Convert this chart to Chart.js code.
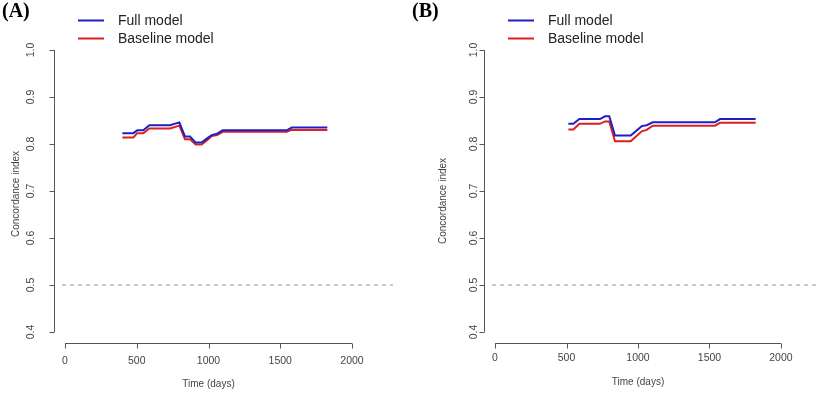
<!DOCTYPE html>
<html>
<head>
<meta charset="utf-8">
<script src="https://cdn.jsdelivr.net/npm/chart.js@4/dist/chart.umd.min.js"></script>
<style>
html,body{margin:0;padding:0;background:#fff;}
#wrap{position:relative;width:820px;height:395px;overflow:hidden;}
.pane{position:absolute;top:0;width:410px;height:395px;}
</style>
</head>
<body>
<div id="wrap">
  <div class="pane" style="left:0"><canvas id="cA" width="410" height="395"></canvas></div>
  <div class="pane" style="left:410px"><canvas id="cB" width="410" height="395"></canvas></div>
</div>
<script>
// ---- data ----
const timesA = [400, 476, 504, 546, 587, 732, 797, 836, 871, 911, 952, 990, 1022, 1060, 1099, 1545, 1580, 1828];
const fullA  = [0.823, 0.823, 0.829, 0.829, 0.840, 0.840, 0.846, 0.816, 0.816, 0.803, 0.803, 0.812, 0.819, 0.822, 0.829, 0.829, 0.835, 0.835];
const baseA  = [0.814, 0.814, 0.823, 0.823, 0.833, 0.833, 0.839, 0.810, 0.810, 0.799, 0.799, 0.808, 0.817, 0.819, 0.826, 0.826, 0.830, 0.830];

const timesB = [513, 548, 590, 734, 769, 799, 839, 949, 1026, 1061, 1103, 1538, 1573, 1823];
const fullB  = [0.843, 0.843, 0.853, 0.853, 0.859, 0.859, 0.818, 0.818, 0.838, 0.840, 0.846, 0.846, 0.853, 0.853];
const baseB  = [0.831, 0.831, 0.843, 0.843, 0.848, 0.848, 0.806, 0.806, 0.827, 0.830, 0.839, 0.839, 0.845, 0.845];

const xTicks = [0, 500, 1000, 1500, 2000];
const yTicks = [0.4, 0.5, 0.6, 0.7, 0.8, 0.9, 1.0];
const refLevel = 0.5;
const refSpan = [-20, 2285];
const seriesNames = ["Full model", "Baseline model"];
const panelLabels = ["(A)", "(B)"];
const xTitle = "Time (days)";
const yTitle = "Concordance index";

// ---- styling ----
const BLUE = "#1f1fc8";
const RED = "#dc1f1f";
const TXT = "#444";

function pts(t, v){ return t.map((x,i)=>({x:x, y:v[i]})); }

function makePanel(id, times, full, base, label, cfg){
  const axesPlugin = {
    id: 'rAxes',
    afterDraw(chart){
      const ctx = chart.ctx;
      const xs = chart.scales.x, ys = chart.scales.y;
      const area = chart.chartArea;
      ctx.save();
      ctx.strokeStyle = "#555";
      ctx.lineWidth = 1;
      ctx.fillStyle = TXT;
      // y axis
      const yx = Math.round(area.left) + 0.5;
      ctx.beginPath();
      ctx.moveTo(yx, ys.getPixelForValue(yTicks[0]));
      ctx.lineTo(yx, ys.getPixelForValue(yTicks[yTicks.length-1]));
      yTicks.forEach(v=>{
        const p = Math.round(ys.getPixelForValue(v)) + 0.5;
        ctx.moveTo(yx, p); ctx.lineTo(yx - 5, p);
      });
      ctx.stroke();
      ctx.font = "10.5px 'Liberation Sans', Arial, sans-serif";
      ctx.textAlign = "center";
      ctx.textBaseline = "middle";
      yTicks.forEach(v=>{
        const p = ys.getPixelForValue(v);
        ctx.save();
        ctx.translate(area.left - cfg.yLabOff, p);
        ctx.rotate(-Math.PI/2);
        ctx.fillText(v.toFixed(1), 0, 0);
        ctx.restore();
      });
      // y title
      ctx.font = "10px 'Liberation Sans', Arial, sans-serif";
      ctx.save();
      ctx.translate(area.left - cfg.yTitleOff, (area.top + area.bottom)/2 + cfg.yTitleShift);
      ctx.rotate(-Math.PI/2);
      ctx.fillText(yTitle, 0, 0);
      ctx.restore();
      // x axis
      const xy = Math.round(area.bottom) + 0.5;
      ctx.beginPath();
      ctx.moveTo(xs.getPixelForValue(xTicks[0]), xy);
      ctx.lineTo(xs.getPixelForValue(xTicks[xTicks.length-1]), xy);
      xTicks.forEach(v=>{
        const p = Math.round(xs.getPixelForValue(v)) + 0.5;
        ctx.moveTo(p, xy); ctx.lineTo(p, xy + 5);
      });
      ctx.stroke();
      ctx.font = "10.5px 'Liberation Sans', Arial, sans-serif";
      xTicks.forEach(v=>{
        ctx.fillText(String(v), xs.getPixelForValue(v), area.bottom + cfg.xLabOff);
      });
      ctx.font = "10px 'Liberation Sans', Arial, sans-serif";
      ctx.fillText(xTitle, (xs.getPixelForValue(xTicks[0]) + xs.getPixelForValue(xTicks[xTicks.length-1]))/2 + cfg.xTitleShift, area.bottom + cfg.xTitleOff);
      // legend
      const cols = [BLUE, RED];
      ctx.font = "14px 'Liberation Sans', Arial, sans-serif";
      ctx.textAlign = "left";
      ctx.fillStyle = "#222";
      seriesNames.forEach((n,i)=>{
        const ly = cfg.legY[i];
        ctx.strokeStyle = cols[i];
        ctx.lineWidth = 2;
        ctx.beginPath();
        ctx.moveTo(cfg.legX, ly); ctx.lineTo(cfg.legX + 26, ly);
        ctx.stroke();
        ctx.fillText(n, cfg.legX + 40, ly + 1);
      });
      // panel label
      ctx.font = "bold 20px 'Liberation Serif', 'Times New Roman', serif";
      ctx.fillStyle = "#000";
      ctx.textBaseline = "alphabetic";
      ctx.fillText(label, 2, 17);
      ctx.restore();
    }
  };

  return new Chart(document.getElementById(id), {
    type: 'line',
    data: {
      datasets: [
        { label: seriesNames[0], data: pts(times, full), borderColor: BLUE, borderWidth: 2, pointRadius: 0, tension: 0, fill: false },
        { label: seriesNames[1], data: pts(times, base), borderColor: RED, borderWidth: 2, pointRadius: 0, tension: 0, fill: false },
        { label: 'ref', data: refSpan.map(x=>({x:x, y:refLevel})), borderColor: "#a8a8a8", borderWidth: 1.3, borderDash: [4,4], pointRadius: 0, clip: false, order: 5 }
      ]
    },
    options: {
      responsive: false,
      animation: false,
      devicePixelRatio: 1,
      layout: { padding: cfg.pad },
      plugins: { legend: { display: false }, tooltip: { enabled: false }, title: { display: false } },
      scales: {
        x: { type: 'linear', min: -80, max: 2080, display: false },
        y: { type: 'linear', min: 0.376, max: 1.024, display: false }
      }
    },
    plugins: [axesPlugin]
  });
}

makePanel('cA', timesA, fullA, baseA, panelLabels[0], {
  pad: { left: 53.5, right: 46.5, top: 38.7, bottom: 51.7 },
  yLabOff: 22, yTitleOff: 37, yTitleShift: 3, xLabOff: 18, xTitleOff: 41, xTitleShift: 0,
  legX: 78, legY: [20.5, 38.5]
});
makePanel('cB', timesB, fullB, baseB, panelLabels[1], {
  pad: { left: 73.6, right: 27.6, top: 38.7, bottom: 51.7 },
  yLabOff: 9, yTitleOff: 40, yTitleShift: 10, xLabOff: 15, xTitleOff: 39, xTitleShift: 0,
  legX: 98, legY: [20.5, 38.5]
});
</script>
</body>
</html>
